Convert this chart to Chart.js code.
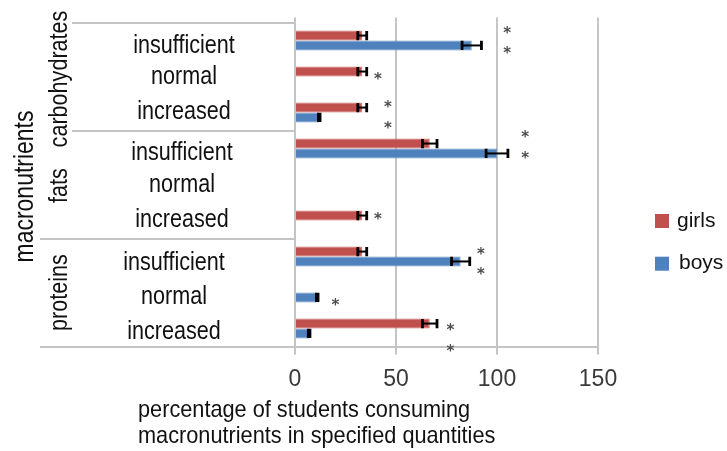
<!DOCTYPE html>
<html>
<head>
<meta charset="utf-8">
<script src="https://cdn.jsdelivr.net/npm/chart.js@4/dist/chart.umd.min.js"></script>
<style>
  html, body { margin: 0; padding: 0; background: #ffffff; }
  #c { display: block; }
</style>
</head>
<body>
<canvas id="c" width="727" height="451"></canvas>
<script>
// ---- data ----
const groups = ['carbohydrates', 'fats', 'proteins'];
const levels = ['insufficient', 'normal', 'increased'];
const seriesNames = ['girls', 'boys'];
const girls    = [33.3, 33.3, 33.3, 66.7, null, 33.3, 33.3, null, 66.7];
const boys     = [87.5, null, 12,   100,  null, null, 82,   11,   7];
const girlsErr = [2.2,  2.2,  2.2,  3.6,  null, 2.2,  2.2,  null, 3.6];
const boysErr  = [4.8,  null, 0.4,  5.4,  null, null, 4.5,  0.4,  0.4];
// significance asterisks, placed at these values along the percentage axis
const girlsStar = [105, 41,   46, 114, null, 41,   92, null, 77];
const boysStar  = [105, null, 46, 114, null, null, 92, 20,   77];
const xTicks = [0, 50, 100, 150];
const axisTitle = ['percentage of students consuming', 'macronutrients in specified quantities'];
const sideTitle = 'macronutrients';

const rowLabels = groups.flatMap(() => levels);

// ---- layout constants (pixels) ----
const LINE = '#c4c4c4';
const TEXT = '#111111';
const levelCenterX = [184, 182, 174];            // centre of level labels per group
const levelBaseDy = [12, 7, 6, 11.5, 7, 6, 13.5, 11, 10];
const groupDy = [2.5, 1, 0];
const starDy = {
  girls: [-10.5, -0.5, -8.2, -14.5, 0, -4.8, -5.5, 0, -1.2],
  boys:  [9.5, 0, 12.5, 6.5, 0, 0, 14.5, 9.2, 19.2]
};

function condensed(ctx, text, x, y, factor) {
  const w = ctx.measureText(text).width;
  ctx.fillText(text, x, y, w * factor);
}

const decorations = {
  id: 'decorations',
  beforeDatasetsDraw(chart) {
    const { ctx, chartArea: a, scales: { x } } = chart;
    ctx.save();
    // grid lines reach a little above the plot
    ctx.strokeStyle = LINE;
    ctx.lineWidth = 2;
    xTicks.forEach(v => {
      const px = Math.round(x.getPixelForValue(v));
      ctx.beginPath();
      ctx.moveTo(px, a.top - 5);
      ctx.lineTo(px, a.top);
      ctx.stroke();
    });
    ctx.restore();
  },
  afterDraw(chart) {
    const { ctx, chartArea: a, scales: { x, y } } = chart;
    ctx.save();

    // left-hand table lines
    const rowPx = i => y.getPixelForValue(i);
    const boundary = i => (rowPx(i - 1) + rowPx(i)) / 2;
    const bounds = [a.top, boundary(3), boundary(6), a.bottom];
    const startX = [72, 72, 40, 40];
    ctx.strokeStyle = LINE;
    ctx.lineWidth = 2;
    bounds.forEach((by, k) => {
      const yy = Math.round(by);
      ctx.beginPath();
      ctx.moveTo(startX[k], yy);
      ctx.lineTo(a.left, yy);
      ctx.stroke();
    });

    // error bars
    ctx.strokeStyle = '#000000';
    [girlsErr, boysErr].forEach((errs, di) => {
      const vals = di === 0 ? girls : boys;
      const meta = chart.getDatasetMeta(di);
      meta.data.forEach((bar, j) => {
        if (vals[j] == null || errs[j] == null) return;
        const x1 = x.getPixelForValue(vals[j] - errs[j]);
        const x2 = x.getPixelForValue(vals[j] + errs[j]);
        const yc = bar.y;
        const h = bar.height / 2 - 0.3;
        ctx.lineWidth = 2;
        ctx.beginPath();
        ctx.moveTo(x1, yc); ctx.lineTo(x2, yc);
        ctx.stroke();
        ctx.lineWidth = 2.8;
        ctx.beginPath();
        ctx.moveTo(x1, yc - h); ctx.lineTo(x1, yc + h);
        ctx.moveTo(x2, yc - h); ctx.lineTo(x2, yc + h);
        ctx.stroke();
      });
    });

    // asterisks
    ctx.fillStyle = '#4d4d4d';
    ctx.font = 'bold 15px "DejaVu Sans", sans-serif';
    ctx.textAlign = 'center';
    ctx.textBaseline = 'alphabetic';
    const m = ctx.measureText('*');
    const starMid = (m.actualBoundingBoxAscent - m.actualBoundingBoxDescent) / 2;
    [[girlsStar, 'girls'], [boysStar, 'boys']].forEach(([stars, key]) => {
      stars.forEach((v, j) => {
        if (v == null) return;
        const yy = rowPx(j) + starDy[key][j];
        ctx.fillText('*', x.getPixelForValue(v), yy + starMid);
      });
    });

    // level labels
    ctx.fillStyle = TEXT;
    ctx.font = '26px "Liberation Sans", Arial, sans-serif';
    ctx.textAlign = 'center';
    ctx.textBaseline = 'alphabetic';
    rowLabels.forEach((lab, j) => {
      const g = Math.floor(j / levels.length);
      condensed(ctx, lab, levelCenterX[g], rowPx(j) + levelBaseDy[j], 0.83);
    });

    // group labels, rotated
    groups.forEach((g, k) => {
      const cy = rowPx(k * 3 + 1) + groupDy[k];
      ctx.save();
      ctx.translate(67, cy);
      ctx.rotate(-Math.PI / 2);
      condensed(ctx, g, 0, 0, 0.83);
      ctx.restore();
    });

    // side title
    ctx.save();
    ctx.font = '28px "Liberation Sans", Arial, sans-serif';
    ctx.translate(33, 186.5);
    ctx.rotate(-Math.PI / 2);
    condensed(ctx, sideTitle, 0, 0, 0.82);
    ctx.restore();

    // value axis title
    ctx.font = '24px "Liberation Sans", Arial, sans-serif';
    ctx.textAlign = 'left';
    condensed(ctx, axisTitle[0], 138, 417, 0.905);
    condensed(ctx, axisTitle[1], 138, 443, 0.905);

    // legend
    ctx.font = '21px "Liberation Sans", Arial, sans-serif';
    ctx.textBaseline = 'middle';
    const legendY = [221, 263.7];
    chart.data.datasets.forEach((ds, i) => {
      ctx.fillStyle = ds.backgroundColor;
      ctx.fillRect(655, legendY[i] - 7, 14, 14);
      ctx.fillStyle = TEXT;
      ctx.fillText(ds.label, 677 + i * 2, legendY[i]);
    });

    ctx.restore();
  }
};

new Chart(document.getElementById('c'), {
  type: 'bar',
  data: {
    labels: rowLabels,
    datasets: [
      { label: seriesNames[0], data: girls, backgroundColor: '#c0504d',
        borderColor: '#cd6b68', borderWidth: 1, borderSkipped: 'start' },
      { label: seriesNames[1], data: boys, backgroundColor: '#4f81bd',
        borderColor: '#6a95c8', borderWidth: 1, borderSkipped: 'start' }
    ]
  },
  options: {
    indexAxis: 'y',
    responsive: false,
    animation: false,
    events: [],
    datasets: { bar: { barPercentage: 1, categoryPercentage: 0.55 } },
    layout: { padding: { left: 295, right: 129, top: 22.5, bottom: 64.5 } },
    plugins: { legend: { display: false }, tooltip: { enabled: false } },
    scales: {
      y: { display: false, offset: true },
      x: {
        min: 0, max: 150,
        afterBuildTicks: s => { s.ticks = xTicks.map(v => ({ value: v })); },
        afterFit: s => { s.height = 40; },
        grid: { color: LINE, lineWidth: 2, tickLength: 8, drawTicks: true },
        border: { display: true, color: LINE, width: 2 },
        ticks: {
          font: { family: '"Liberation Sans", Arial, sans-serif', size: 23 },
          color: '#3a3a3a', padding: 11, maxRotation: 0
        }
      }
    }
  },
  plugins: [decorations]
});
</script>
</body>
</html>
